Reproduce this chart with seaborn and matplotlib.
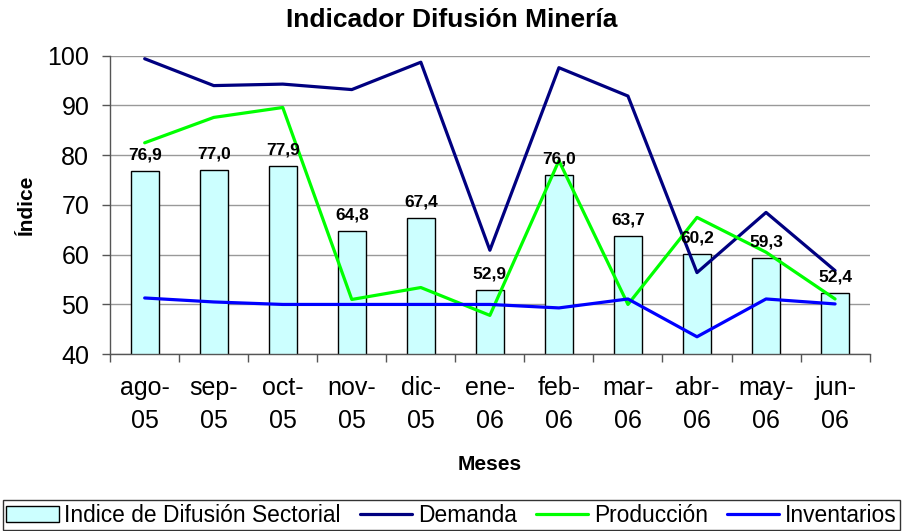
import numpy as np
import pandas as pd
import matplotlib
matplotlib.use("Agg")
import matplotlib.pyplot as plt
import seaborn as sns
from matplotlib.ticker import FixedLocator

meses = ["ago-\n05", "sep-\n05", "oct-\n05", "nov-\n05", "dic-\n05", "ene-\n06",
         "feb-\n06", "mar-\n06", "abr-\n06", "may-\n06", "jun-\n06"]
indice_difusion = [76.9, 77.0, 77.9, 64.8, 67.4, 52.9, 76.0, 63.7, 60.2, 59.3, 52.4]
demanda = [99.4, 94.0, 94.3, 93.2, 98.7, 60.9, 97.6, 91.9, 56.4, 68.5, 56.8]
produccion = [82.5, 87.6, 89.6, 51.0, 53.4, 47.8, 78.9, 50.0, 67.5, 60.5, 51.1]
inventarios = [51.3, 50.5, 50.0, 50.0, 50.0, 50.0, 49.3, 51.1, 43.5, 51.1, 50.1]

sns.set_theme(style="white")
plt.rcParams["font.family"] = ["Liberation Sans", "DejaVu Sans"]
plt.rcParams.update({"text.color": "black", "axes.labelcolor": "black",
                     "xtick.labelcolor": "black", "ytick.labelcolor": "black"})

df = pd.DataFrame({"mes": meses, "idx": indice_difusion})
pos = np.arange(len(meses))

fig = plt.figure(figsize=(9.03, 5.31), dpi=100)
ax = fig.add_axes([0.122, 0.333, 0.841, 0.562])

sns.barplot(data=df, x="mes", y="idx", ax=ax, color="#CCFFFF", width=0.41,
            edgecolor="black", linewidth=1.0, saturation=1, label="Indice de Difusión Sectorial")
sns.lineplot(x=pos, y=demanda, ax=ax, color="#000080", linewidth=2.3, label="Demanda")
sns.lineplot(x=pos, y=produccion, ax=ax, color="#00FF00", linewidth=2.3, label="Producción")
sns.lineplot(x=pos, y=inventarios, ax=ax, color="#0000FF", linewidth=2.3, label="Inventarios")

for p, v in zip(pos, indice_difusion):
    ax.text(p, v + 1.7, f"{v:.1f}".replace(".", ","), ha="center", va="bottom",
            fontsize=12.5, fontweight="bold", color="black")

ax.set_ylim(40, 100)
ax.set_xlim(-0.5, len(meses) - 0.5)
ax.set_yticks(range(40, 101, 10))
ax.yaxis.grid(True, color="#999999", linewidth=1.0)
ax.set_axisbelow(True)
for s in ["top", "right"]:
    ax.spines[s].set_visible(False)
for s in ["left", "bottom"]:
    ax.spines[s].set_color("#555555")
    ax.spines[s].set_linewidth(1.0)

ax.tick_params(axis="y", left=True, length=6, width=1, color="#555555", labelsize=18, pad=9,
               labelcolor="black")
ax.tick_params(axis="x", which="major", length=0, labelsize=18, pad=16, labelcolor="black")
ax.xaxis.set_minor_locator(FixedLocator(np.arange(-0.5, len(meses), 1.0)))
ax.tick_params(axis="x", which="minor", bottom=True, length=6, width=1, color="#555555")
for t in ax.get_xticklabels():
    t.set_linespacing(1.45)

ax.set_xlabel("Meses", fontsize=15, fontweight="bold", labelpad=16)
ax.set_ylabel("Índice", fontsize=15, fontweight="bold", labelpad=8)
fig.text(0.5, 0.962, "Indicador Difusión Minería", ha="center", va="center",
         fontsize=19, fontweight="bold", color="black")

handles, labels = ax.get_legend_handles_labels()
order = [labels.index("Indice de Difusión Sectorial"), labels.index("Demanda"),
         labels.index("Producción"), labels.index("Inventarios")]
handles = [handles[i] for i in order]
labels = [labels[i] for i in order]
ax.legend_.remove()
leg = fig.legend(handles, labels, loc="lower left", bbox_to_anchor=(0.003, 0.002, 0.994, 0.062),
                 mode="expand", ncol=4, fontsize=16.4, frameon=True, fancybox=False,
                 edgecolor="black", handlelength=2.3, handletextpad=0.25, columnspacing=0.4,
                 borderpad=0.15, borderaxespad=0.0)
leg.get_frame().set_linewidth(1.0)
for t in leg.get_texts():
    t.set_color("black")

fig.savefig("out.png", dpi=100)
